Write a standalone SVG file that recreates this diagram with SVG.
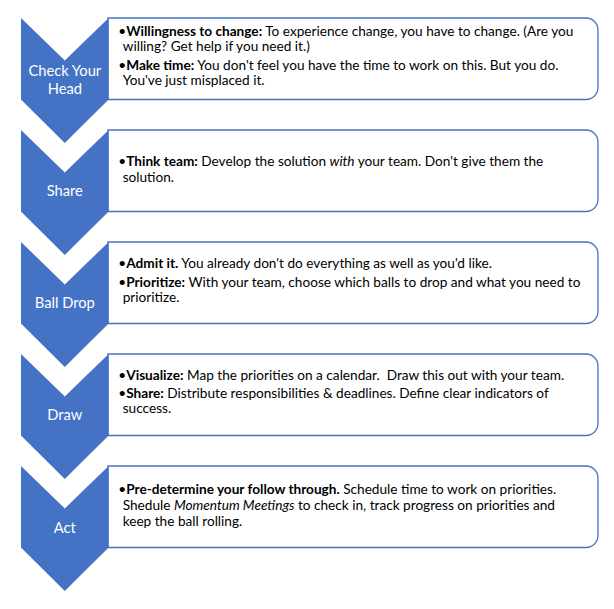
<svg xmlns="http://www.w3.org/2000/svg" width="614" height="609" viewBox="0 0 614 609">
<style>
.box{fill:#fff;stroke:#4472C4;stroke-width:1.3}
.chev{fill:#4472C4}
.lbl{font-family:Lato,"Liberation Sans",sans-serif;font-size:14.7px;fill:#fff;text-anchor:middle}
.t{font-family:Lato,"Liberation Sans",sans-serif;font-size:13.63px;fill:#000}
.b{font-weight:bold}
.i{font-style:italic}
</style>
<rect width="614" height="609" fill="#fff"/>
<g id="connectors"></g>
<g id="step1">
<path class="box" d="M108,18 H586 A12,12 0 0 1 598,30 V87.5 A12,12 0 0 1 586,99.5 H108 Z"/>
<path class="chev" d="M21,18 L64.8,60.5 L108.6,18 V99.5 L64.8,143 L21,99.5 Z"/>
<text class="lbl" x="64.8" y="76">Check Your</text>
<text class="lbl" x="64.8" y="94">Head</text>
<text class="t" x="118.3" y="36">•<tspan class="b">Willingness to change:</tspan> To experience change, you have to change. (Are you</text>
<text class="t" x="122.7" y="51">willing? Get help if you need it.)</text>
<text class="t" x="118.3" y="70">•<tspan class="b">Make time:</tspan> You don't feel you have the time to work on this. But you do.</text>
<text class="t" x="122.7" y="85">You've just misplaced it.</text>
</g>
<g id="step2">
<path class="box" d="M108,130 H586 A12,12 0 0 1 598,142 V199.5 A12,12 0 0 1 586,211.5 H108 Z"/>
<path class="chev" d="M21,130 L64.8,172.5 L108.6,130 V211.5 L64.8,255 L21,211.5 Z"/>
<text class="lbl" x="64.8" y="196">Share</text>
<text class="t" x="118.3" y="166">•<tspan class="b">Think team:</tspan> Develop the solution <tspan class="i">with</tspan> your team. Don't give them the</text>
<text class="t" x="122.7" y="181.7">solution.</text>
</g>
<g id="step3">
<path class="box" d="M108,242 H586 A12,12 0 0 1 598,254 V311.5 A12,12 0 0 1 586,323.5 H108 Z"/>
<path class="chev" d="M21,242 L64.8,284.5 L108.6,242 V323.5 L64.8,367 L21,323.5 Z"/>
<text class="lbl" x="64.8" y="308">Ball Drop</text>
<text class="t" x="118.3" y="268.3">•<tspan class="b">Admit it.</tspan> You already don't do everything as well as you'd like.</text>
<text class="t" x="118.3" y="287.3">•<tspan class="b">Prioritize:</tspan> With your team, choose which balls to drop and what you need to</text>
<text class="t" x="122.7" y="302.3">prioritize.</text>
</g>
<g id="step4">
<path class="box" d="M108,354 H586 A12,12 0 0 1 598,366 V423.5 A12,12 0 0 1 586,435.5 H108 Z"/>
<path class="chev" d="M21,354 L64.8,396.5 L108.6,354 V435.5 L64.8,479 L21,435.5 Z"/>
<text class="lbl" x="64.8" y="420">Draw</text>
<text class="t" x="118.3" y="380" xml:space="preserve">•<tspan class="b">Visualize:</tspan> Map the priorities on a calendar.  Draw this out with your team.</text>
<text class="t" x="118.3" y="398.3">•<tspan class="b">Share:</tspan> Distribute responsibilities &amp; deadlines. Define clear indicators of</text>
<text class="t" x="122.7" y="413.3">success.</text>
</g>
<g id="step5">
<path class="box" d="M108,466 H586 A12,12 0 0 1 598,478 V535.5 A12,12 0 0 1 586,547.5 H108 Z"/>
<path class="chev" d="M21,466 L64.8,508.5 L108.6,466 V547.5 L64.8,591 L21,547.5 Z"/>
<text class="lbl" x="64.8" y="532.7">Act</text>
<text class="t" x="118.3" y="494">•<tspan class="b">Pre-determine your follow through.</tspan> Schedule time to work on priorities.</text>
<text class="t" x="122.7" y="510">Shedule <tspan class="i">Momentum Meetings</tspan> to check in, track progress on priorities and</text>
<text class="t" x="122.7" y="525.7">keep the ball rolling.</text>
</g>
</svg>
